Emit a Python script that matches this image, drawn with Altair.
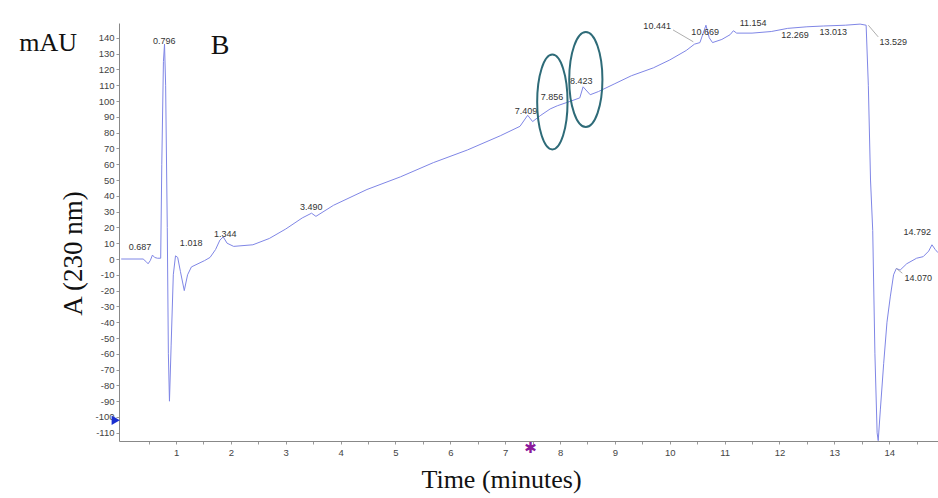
import altair as alt
import pandas as pd

# ---- chromatogram trace (time in minutes, absorbance in mAU) ----
time = [0.00, 0.40, 0.45, 0.49, 0.53, 0.57, 0.61, 0.66, 0.72, 0.74, 0.77, 0.79, 0.81, 0.84,
        0.86, 0.88, 0.91, 0.95, 0.99, 1.03, 1.08, 1.15, 1.21, 1.28, 1.40, 1.52, 1.62, 1.72,
        1.80, 1.86, 1.93, 2.05, 2.40, 2.70, 3.00, 3.30, 3.47, 3.55, 3.87, 4.48, 5.09, 5.69,
        6.31, 6.91, 7.27, 7.35, 7.41, 7.50, 7.65, 7.82, 7.95, 8.20, 8.36, 8.42, 8.55, 8.70,
        9.00, 9.30, 9.70, 10.00, 10.30, 10.45, 10.55, 10.60, 10.66, 10.72, 10.78, 10.95,
        11.10, 11.16, 11.22, 11.50, 11.85, 12.15, 12.50, 12.80, 13.20, 13.47, 13.58, 13.62,
        13.66, 13.70, 13.74, 13.78, 13.80, 13.84, 13.90, 13.96, 14.02, 14.08, 14.13, 14.20,
        14.32, 14.50, 14.62, 14.72, 14.78, 14.84, 14.89]
absorbance = [0.0, 0.0, -1.5, -3.0, -1.0, 2.5, 1.0, 0.5, 0.5, 60, 125, 136, 110, 20,
              -60, -90, -55, -10, 2, 1, -8, -20, -10, -5, -3, -1, 1, 6,
              12, 14, 10, 8, 9, 13, 19, 26, 29, 27, 34, 44, 52, 61,
              69, 78, 84, 88, 91, 87, 91, 95, 97, 100, 102, 109, 104, 106,
              111, 116, 121, 126, 132, 136, 137, 142, 148, 140, 137, 139,
              142, 144.5, 143, 143, 144, 146, 147, 147.5, 148, 148.7, 148, 110,
              50, 18, -60, -110, -115, -95, -66, -40, -24, -10, -6, -7,
              -3, 0.5, 1.5, 5, 9, 6, 4]

# ---- peak retention-time labels ----
peak_text = ["0.687", "0.796", "1.018", "1.344", "3.490", "7.409", "7.856", "8.423",
             "10.441", "10.669", "11.154", "12.269", "13.013", "13.529", "14.792", "14.070"]
peak_t = [0.345, 0.785, 1.275, 1.895, 3.465, 7.38, 7.855, 8.385,
          9.77, 10.645, 11.52, 12.285, 12.98, 14.075, 14.51, 14.53]
peak_v = [7.7, 138, 10.3, 16, 33, 93.8, 102.7, 112.8,
          147.6, 143.8, 149.5, 141.9, 143.8, 137.5, 17.2, -11.9]

# ---- leader lines from labels to peaks ----
lead_t1 = [10.06, 13.62, 14.13]
lead_v1 = [145, 148, -6]
lead_t2 = [10.43, 13.80, 14.24]
lead_v2 = [137.5, 140.6, -9]

# ---- highlighted peaks (ellipses) ----
ell_t = [7.86, 8.47]
ell_v = [99.4, 113.6]
ell_shape = ["M0,-1 A0.32,1 0 1,1 0,1 A0.32,1 0 1,1 0,-1 Z",
             "M0,-1 A0.35,1 0 1,1 0,1 A0.35,1 0 1,1 0,-1 Z"]

# ---- panel texts / markers ----
panel_text = ["mAU", "B"]
panel_t = [-1.33, 1.805]
panel_v = [136.8, 135]
panel_size = [26, 28]

XDOM = [-0.04, 14.89]
YDOM = [-115.2, 149.4]

trace = pd.DataFrame({"t": time, "v": absorbance})
peaks = pd.DataFrame({"label": peak_text, "t": peak_t, "v": peak_v})
leads = pd.DataFrame({"t": lead_t1, "v": lead_v1, "t2": lead_t2, "v2": lead_v2})
ells = pd.DataFrame({"t": ell_t, "v": ell_v, "shape": ell_shape})
panel = pd.DataFrame({"label": panel_text, "t": panel_t, "v": panel_v, "size": panel_size})
arrow = pd.DataFrame({"t": [-0.1], "v": [-102]})
star = pd.DataFrame({"t": [7.46], "v": [-119.5], "label": ["✱"]})

x_half = [i / 2 for i in range(1, 30)]

xaxis = alt.Axis(values=x_half,
                 labelExpr="datum.value % 1 == 0 ? '' + datum.value : ''",
                 labelOverlap=False, labelFlush=False,
                 title="Time (minutes)", titleX=382, titleY=38, titleBaseline="middle",
                 titleAlign="center", titleFont="Liberation Serif", titleFontSize=26,
                 titleFontWeight="normal", titleColor="#111",
                 grid=False, tickSize=3, labelPadding=3, labelFontSize=9.5,
                 labelFont="Liberation Sans", labelColor="#444", domainColor="#888",
                 tickColor="#999")
yaxis = alt.Axis(values=list(range(-110, 141, 10)), title="A (230 nm)",
                 labelExpr="'' + datum.value",
                 labelOverlap=False, labelFlush=False,
                 titleX=-46, titleY=230, titleAngle=270, titleBaseline="middle",
                 titleAlign="center", titleFont="Liberation Serif", titleFontSize=27,
                 titleFontWeight="normal", titleColor="#111",
                 grid=False, tickSize=3, labelPadding=2, labelFontSize=9.5,
                 labelFont="Liberation Sans", labelColor="#444", domainColor="#888",
                 tickColor="#999")
xscale = alt.Scale(domain=XDOM, nice=False, zero=False)
yscale = alt.Scale(domain=YDOM, nice=False, zero=False)


def X():
    return alt.X("t:Q", scale=xscale, axis=xaxis)


def Y():
    return alt.Y("v:Q", scale=yscale, axis=yaxis)


line = alt.Chart(trace).mark_line(color="#7f86e6", strokeWidth=1, clip=True).encode(
    x=X(), y=Y(), order="t:Q")

leader = alt.Chart(leads).mark_rule(color="#999", strokeWidth=0.8).encode(
    x=X(), y=Y(), x2="t2:Q", y2="v2:Q")

labels = alt.Chart(peaks).mark_text(font="Liberation Sans", fontSize=9, color="#333").encode(
    x=X(), y=Y(), text="label:N")

ellipses = alt.Chart(ells).mark_point(filled=False, stroke="#2e6b78", strokeWidth=2,
                                      size=9000, opacity=1).encode(
    x=X(), y=Y(), shape=alt.Shape("shape:N", scale=None))

panel_txt = alt.Chart(panel).mark_text(font="Liberation Serif", color="#111").encode(
    x=X(), y=Y(), text="label:N", size=alt.Size("size:Q", scale=None))

arrow_mk = alt.Chart(arrow).mark_point(shape="triangle-right", filled=True, color="#1a2fd0",
                                       size=90, opacity=1).encode(x=X(), y=Y())

star_mk = alt.Chart(star).mark_text(font="DejaVu Sans", fontSize=15, color="#8b1a9b").encode(
    x=X(), y=Y(), text="label:N")

chart = alt.layer(line, leader, labels, ellipses, panel_txt, arrow_mk, star_mk).properties(
    width=819, height=418,
    autosize=alt.AutoSizeParams(type="none"),
    padding={"left": 119, "top": 23, "right": 0, "bottom": 57},
    background="white",
).configure_view(stroke=None).configure_axis(labelOverlap=False)

chart.save("out.html", embed_options={"renderer": "svg", "actions": False})
